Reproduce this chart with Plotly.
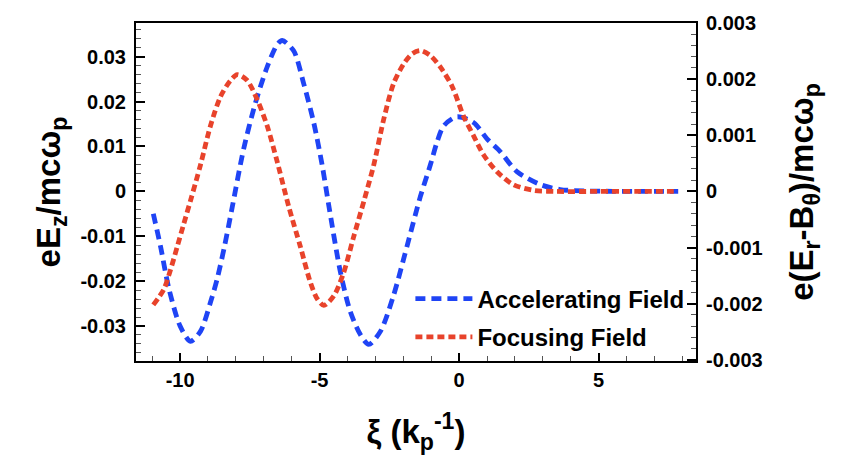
import plotly.graph_objects as go

# Longitudinal position xi (units of 1/k_p) and accelerating field eEz/mc omega_p
xi_acc = [-10.96, -10.7, -10.4, -10.0, -9.63, -9.27, -8.9, -8.67, -8.4, -8.13,
          -7.72, -7.30, -6.88, -6.52, -6.34, -5.93, -5.57, -5.21, -4.91, -4.64,
          -4.25, -3.9, -3.54, -3.24, -2.82, -2.35, -1.87, -1.39, -1.03, -0.79,
          -0.55, -0.08, 0.52, 1.0, 1.48, 2.07, 2.91, 3.62, 4.5, 5.5, 6.5, 7.85]
ez_acc = [-0.0050, -0.0123, -0.0217, -0.0300, -0.0334, -0.0312, -0.0245, -0.0195, -0.0120, -0.0035,
          0.0095, 0.0197, 0.0277, 0.0327, 0.0336, 0.0313, 0.0240, 0.0153, 0.0059, -0.0043,
          -0.0181, -0.0268, -0.0319, -0.0341, -0.0312, -0.0232, -0.0123, -0.0012, 0.0059, 0.0110,
          0.0146, 0.0166, 0.0153, 0.0117, 0.0088, 0.0044, 0.0015, 0.0004, 0.0001, 0.0, 0.0, 0.0]

# Focusing field e(Er - B_theta)/mc omega_p
xi_foc = [-10.96, -10.58, -10.34, -10.1, -9.87, -9.63, -9.27, -8.91, -8.55, -8.19,
          -7.95, -7.6, -7.24, -6.88, -6.52, -6.1, -5.69, -5.33, -5.09, -4.85,
          -4.49, -4.14, -3.78, -3.40, -3.06, -2.7, -2.35, -1.99, -1.69, -1.39,
          -1.03, -0.65, -0.25, 0.16, 0.52, 0.88, 1.36, 1.95, 2.67, 3.5, 5.0, 6.5, 7.85]
ef_foc = [-0.00202, -0.00174, -0.00139, -0.00098, -0.00058, -0.00017, 0.00047, 0.00117, 0.00169, 0.00198,
          0.00208, 0.00198, 0.00164, 0.00117, 0.00053, -0.00028, -0.00098, -0.00162, -0.00191, -0.00203,
          -0.00186, -0.00145, -0.00081, -0.00015, 0.00047, 0.00129, 0.00192, 0.00227, 0.00245, 0.00251,
          0.00242, 0.00220, 0.00187, 0.00134, 0.00099, 0.00065, 0.00035, 0.00012, 0.00002, 0.0, 0.0, 0.0, 0.0]

x_ticks = [-10, -5, 0, 5]
x_tick_text = ["-10", "-5", "0", "5"]
left_ticks = [-0.03, -0.02, -0.01, 0, 0.01, 0.02, 0.03]
left_tick_text = ["-0.03", "-0.02", "-0.01", "0", "0.01", "0.02", "0.03"]
right_ticks = [-0.003, -0.002, -0.001, 0, 0.001, 0.002, 0.003]
right_tick_text = ["-0.003", "-0.002", "-0.001", "0", "0.001", "0.002", "0.003"]

BLUE = "#1f44f5"
RED = "#e8432b"
FONT = "Liberation Sans"

fig = go.Figure()
fig.add_trace(go.Scatter(
    x=xi_acc, y=ez_acc, mode="lines", name="Accelerating Field",
    line=dict(color=BLUE, width=4.8, dash="10px,6px", shape="spline", smoothing=0.8),
    legendgroup="acc", yaxis="y"))
fig.add_trace(go.Scatter(
    x=xi_foc, y=ef_foc, mode="lines", name="Focusing Field",
    line=dict(color=RED, width=4.8, dash="7px,4px", shape="spline", smoothing=0.8),
    legendgroup="foc", yaxis="y2"))

tick_font = dict(family=FONT, size=20, color="black", weight="bold")
title_font = dict(family=FONT, size=33, color="black", weight="bold")

fig.update_layout(
    width=846, height=462,
    margin=dict(l=136, r=150, t=15, b=101),
    paper_bgcolor="white", plot_bgcolor="white",
    showlegend=True,
    legend=dict(x=0.49, y=0.25, xanchor="left", yanchor="top",
                bgcolor="rgba(0,0,0,0)", tracegroupgap=4, itemwidth=57,
                font=dict(family=FONT, size=24, color="black", weight="bold")),
    xaxis=dict(
        range=[-11.58, 8.49], showgrid=False, zeroline=False,
        showline=True, linecolor="black", linewidth=2, mirror=True,
        ticks="inside", ticklen=8, tickwidth=2, tickcolor="black",
        tickvals=x_ticks, ticktext=x_tick_text, tickfont=tick_font,
        minor=dict(ticks="inside", ticklen=5, tickwidth=1, tickcolor="#555", dtick=1, tick0=0),
        title=dict(text="ξ (k<sub>p</sub><sup>-1</sup>)", font=title_font, standoff=30),
    ),
    yaxis=dict(
        range=[-0.0378, 0.0375], showgrid=False, zeroline=False,
        showline=True, linecolor="black", linewidth=2,
        ticks="inside", ticklen=9, tickwidth=2, tickcolor="black",
        tickvals=left_ticks, ticktext=left_tick_text, tickfont=tick_font,
        ticklabelstandoff=4,
        minor=dict(ticks="inside", ticklen=5, tickwidth=1, tickcolor="#555", dtick=0.002, tick0=0),
        title=dict(text="eE<sub>z</sub>/mcω<sub>p</sub>", font=title_font, standoff=10),
    ),
    yaxis2=dict(
        overlaying="y", side="right",
        range=[-0.00302, 0.00300], showgrid=False, zeroline=False,
        showline=True, linecolor="black", linewidth=2,
        ticks="inside", ticklen=9, tickwidth=2, tickcolor="black",
        tickvals=right_ticks, ticktext=right_tick_text, tickfont=tick_font,
        ticklabelstandoff=4,
        minor=dict(ticks="inside", ticklen=5, tickwidth=1, tickcolor="#555", dtick=0.0002, tick0=0),
        title=dict(text="e(E<sub>r</sub>-B<sub>θ</sub>)/mcω<sub>p</sub>", font=title_font, standoff=28),
    ),
)

fig.write_html("out.html")
